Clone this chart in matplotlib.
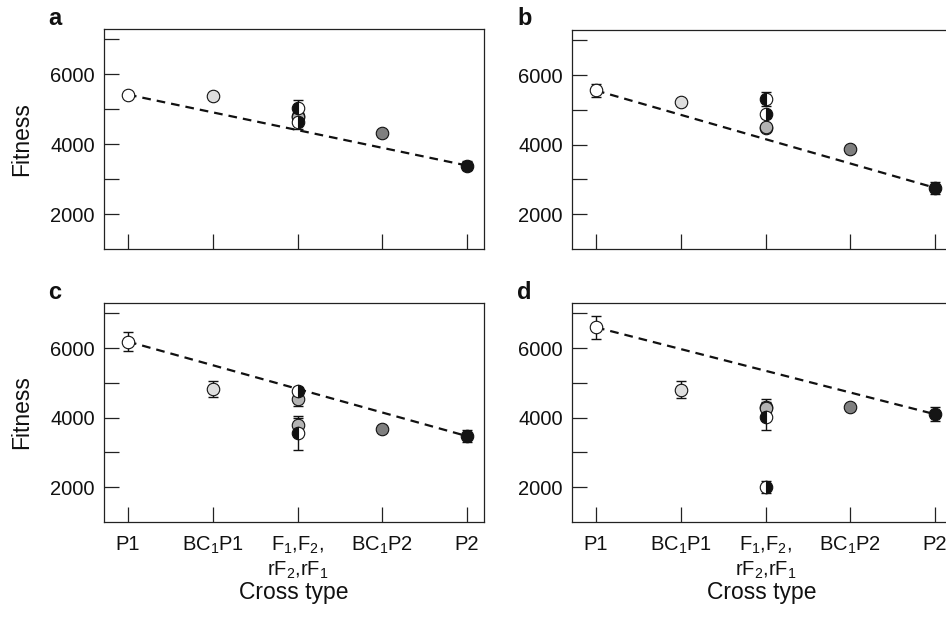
import matplotlib
matplotlib.use('Agg')
import matplotlib.pyplot as plt

plt.rcParams['font.family'] = ['Liberation Sans', 'DejaVu Sans']
plt.rcParams['mathtext.fontset'] = 'custom'
plt.rcParams['mathtext.rm'] = 'Liberation Sans'
plt.rcParams['mathtext.it'] = 'Liberation Sans:italic'
plt.rcParams['mathtext.bf'] = 'Liberation Sans:bold'

# ---------------- data ----------------
categories = ['P1', 'BC$_1$P1', 'F$_1$,F$_2$,\nrF$_2$,rF$_1$', 'BC$_1$P2', 'P2']
panel_letters = ['a', 'b', 'c', 'd']
ytick_values = [2000, 3000, 4000, 5000, 6000, 7000]
ytick_labels = ['2000', '', '4000', '', '6000', '']

p1_mean = [5420, 5560, 6190, 6600]
p1_err = [40, 200, 270, 340]
bc1p1_mean = [5370, 5220, 4840, 4810]
bc1p1_err = [40, 40, 230, 250]
f1_mean = [5050, 5310, 3550, 4010]      # half filled, black left
f1_err = [230, 200, 490, 370]
f2_mean = [4820, 4480, 4530, 4300]      # grey
f2_err = [100, 80, 200, 230]
rf2_mean = [4780, 4500, 3780, 4290]     # grey
rf2_err = [80, 60, 210, 150]
rf1_mean = [4630, 4880, 4760, 2000]     # half filled, black right
rf1_err = [180, 100, 130, 170]
bc1p2_mean = [4330, 3870, 3670, 4300]
bc1p2_err = [50, 60, 60, 80]
p2_mean = [3390, 2760, 3470, 4100]
p2_err = [140, 170, 170, 200]

# ---------------- figure ----------------
W, H = 946, 619
fig = plt.figure(figsize=(W / 100, H / 100), dpi=100)

boxes = {
    'a': (104, 29, 380, 220),
    'b': (572, 30, 380, 219),
    'c': (104, 303, 380, 219),
    'd': (572, 303, 380, 219),
}
letter_pos = {'a': (48, 25), 'b': (517, 25), 'c': (48, 299), 'd': (517, 299)}

ms = 9
mew = 0.8
ec = '#111111'

for i, L in enumerate(panel_letters):
    x0, y0, w, h = boxes[L]
    ax = fig.add_axes([x0 / W, 1 - (y0 + h) / H, w / W, h / H])
    ax.set_xlim(-0.283, 4.2)
    ax.set_ylim(1000, 7300)

    # expectation line between parents
    ax.plot([0, 4], [p1_mean[i], p2_mean[i]], color='#111111', lw=1.6,
            ls=(0, (3.9, 2.7)), zorder=1)

    # error bars
    xs = [0, 1, 2, 2, 2, 2, 3, 4]
    ys = [p1_mean[i], bc1p1_mean[i], f2_mean[i], rf2_mean[i], f1_mean[i],
          rf1_mean[i], bc1p2_mean[i], p2_mean[i]]
    es = [p1_err[i], bc1p1_err[i], f2_err[i], rf2_err[i], f1_err[i],
          rf1_err[i], bc1p2_err[i], p2_err[i]]
    ax.errorbar(xs, ys, yerr=es, fmt='none', ecolor=ec, elinewidth=1.0,
                capsize=3.5, capthick=1.0, zorder=2)

    # markers
    ax.plot(0, p1_mean[i], 'o', ms=ms, mfc='white', mec=ec, mew=mew, zorder=3)
    ax.plot(1, bc1p1_mean[i], 'o', ms=ms, mfc='#dedede', mec=ec, mew=mew, zorder=3)
    ax.plot(2, f2_mean[i], 'o', ms=ms, mfc='#b3b3b3', mec=ec, mew=mew, zorder=3)
    ax.plot(2, rf2_mean[i], 'o', ms=ms, mfc='#b3b3b3', mec=ec, mew=mew, zorder=3)
    ax.plot(2, f1_mean[i], 'o', ms=ms, fillstyle='left', mfc='#111111',
            mfcalt='white', mec=ec, mew=mew, zorder=4)
    ax.plot(2, rf1_mean[i], 'o', ms=ms, fillstyle='right', mfc='#111111',
            mfcalt='white', mec=ec, mew=mew, zorder=4)
    ax.plot(3, bc1p2_mean[i], 'o', ms=ms, mfc='#7f7f7f', mec=ec, mew=mew, zorder=3)
    ax.plot(4, p2_mean[i], 'o', ms=ms, mfc='#151515', mec=ec, mew=mew, zorder=3)

    for s in ax.spines.values():
        s.set_linewidth(0.9)
        s.set_color('#222222')

    ax.set_yticks(ytick_values)
    ax.set_yticklabels(ytick_labels)
    ax.set_xticks(range(len(categories)))
    if L in ('c', 'd'):
        ax.set_xticklabels(categories, linespacing=1.25)
    else:
        ax.set_xticklabels([])
    ax.tick_params(axis='both', direction='in', length=10.5, width=0.9,
                   color='#222222', labelsize=14.5, labelcolor='#111111')
    ax.tick_params(axis='y', pad=6.5)
    ax.tick_params(axis='x', pad=9)

    lx, ly = letter_pos[L]
    fig.text(lx / W, 1 - ly / H, L, fontsize=17, fontweight='bold',
             ha='left', va='baseline', color='#111111')

    if L in ('a', 'c'):
        fig.text(22 / W, 1 - (y0 + h / 2) / H, 'Fitness', rotation=90,
                 ha='center', va='center', fontsize=16.5, color='#111111')
    if L in ('c', 'd'):
        fig.text((x0 + 190) / W, 1 - 592 / H, 'Cross type', ha='center',
                 va='center', fontsize=16.5, color='#111111')

fig.savefig('out.png', dpi=100)
